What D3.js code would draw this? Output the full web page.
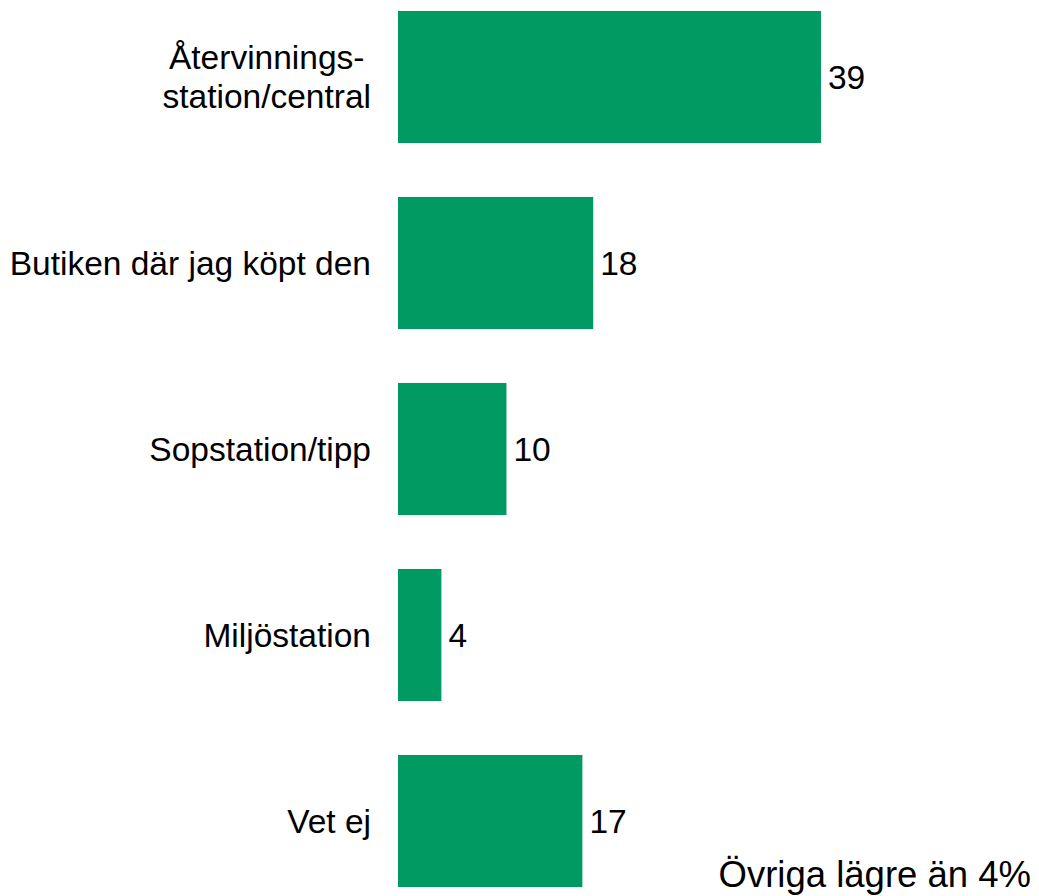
<!DOCTYPE html>
<html>
<head>
<meta charset="utf-8">
<script src="https://cdn.jsdelivr.net/npm/d3@7"></script>
<style>
  body { margin: 0; background: #fff; }
  text { font-family: "Liberation Sans", Arial, sans-serif; fill: #000; }
</style>
</head>
<body>
<div id="chart"></div>
<script>
// Category labels (multi-line labels split by "|")
var categories = ["Återvinnings-|station/central", "Butiken där jag köpt den", "Sopstation/tipp", "Miljöstation", "Vet ej"];
// Percent values
var values = [39, 18, 10, 4, 17];
var footnote = "Övriga lägre än 4%";

var width = 1039;
var height = 896;
var barLeft = 398;
var labelRight = barLeft - 27;

var svg = d3.select("#chart")
  .append("svg")
  .attr("width", width)
  .attr("height", height);

var data = categories.map(function(c, i) {
  return { label: c, value: values[i] };
});

// horizontal scale: 39 units ~ 423px
var xScale = d3.scaleLinear()
  .domain([0, 50])
  .range([barLeft, barLeft + 542.3]);

var yScale = d3.scaleBand()
  .domain(categories)
  .range([-16, 914])
  .paddingInner(0.29)
  .paddingOuter(0.145);

// bars
svg.selectAll("rect.bar")
  .data(data)
  .enter()
  .append("rect")
  .attr("class", "bar")
  .attr("x", xScale(0))
  .attr("y", function(d) { return yScale(d.label); })
  .attr("width", function(d) { return xScale(d.value) - xScale(0); })
  .attr("height", yScale.bandwidth())
  .attr("fill", "#009a62");

// value labels
svg.selectAll("text.val")
  .data(data)
  .enter()
  .append("text")
  .attr("class", "val")
  .attr("x", function(d) { return xScale(d.value) + 7; })
  .attr("y", function(d) { return yScale(d.label) + yScale.bandwidth() / 2; })
  .attr("dy", "0.35em")
  .attr("font-size", 33.5)
  .text(function(d) { return d.value; });

// category labels
var cat = svg.selectAll("text.cat")
  .data(data)
  .enter()
  .append("text")
  .attr("class", "cat")
  .attr("text-anchor", "end")
  .attr("font-size", 33.5)
  .attr("y", function(d) { return yScale(d.label) + yScale.bandwidth() / 2; });

cat.each(function(d) {
  var lines = d.label.split("|");
  var lineH = 39;
  var t = d3.select(this);
  var spans = lines.map(function(l, i) {
    return t.append("tspan")
      .attr("x", labelRight)
      .attr("dy", i === 0 ? (0.35 * 33.5 - (lines.length - 1) * lineH / 2) : lineH)
      .text(l);
  });
  // wrapped labels are centred on their widest line
  if (lines.length > 1) {
    var maxW = d3.max(spans, function(s) { return s.node().getComputedTextLength(); });
    t.attr("text-anchor", "middle");
    spans.forEach(function(s) { s.attr("x", labelRight - maxW / 2); });
  }
});

// footnote
svg.append("text")
  .attr("x", 1031)
  .attr("y", 887)
  .attr("text-anchor", "end")
  .attr("font-size", 36.5)
  .text(footnote);
</script>
</body>
</html>
